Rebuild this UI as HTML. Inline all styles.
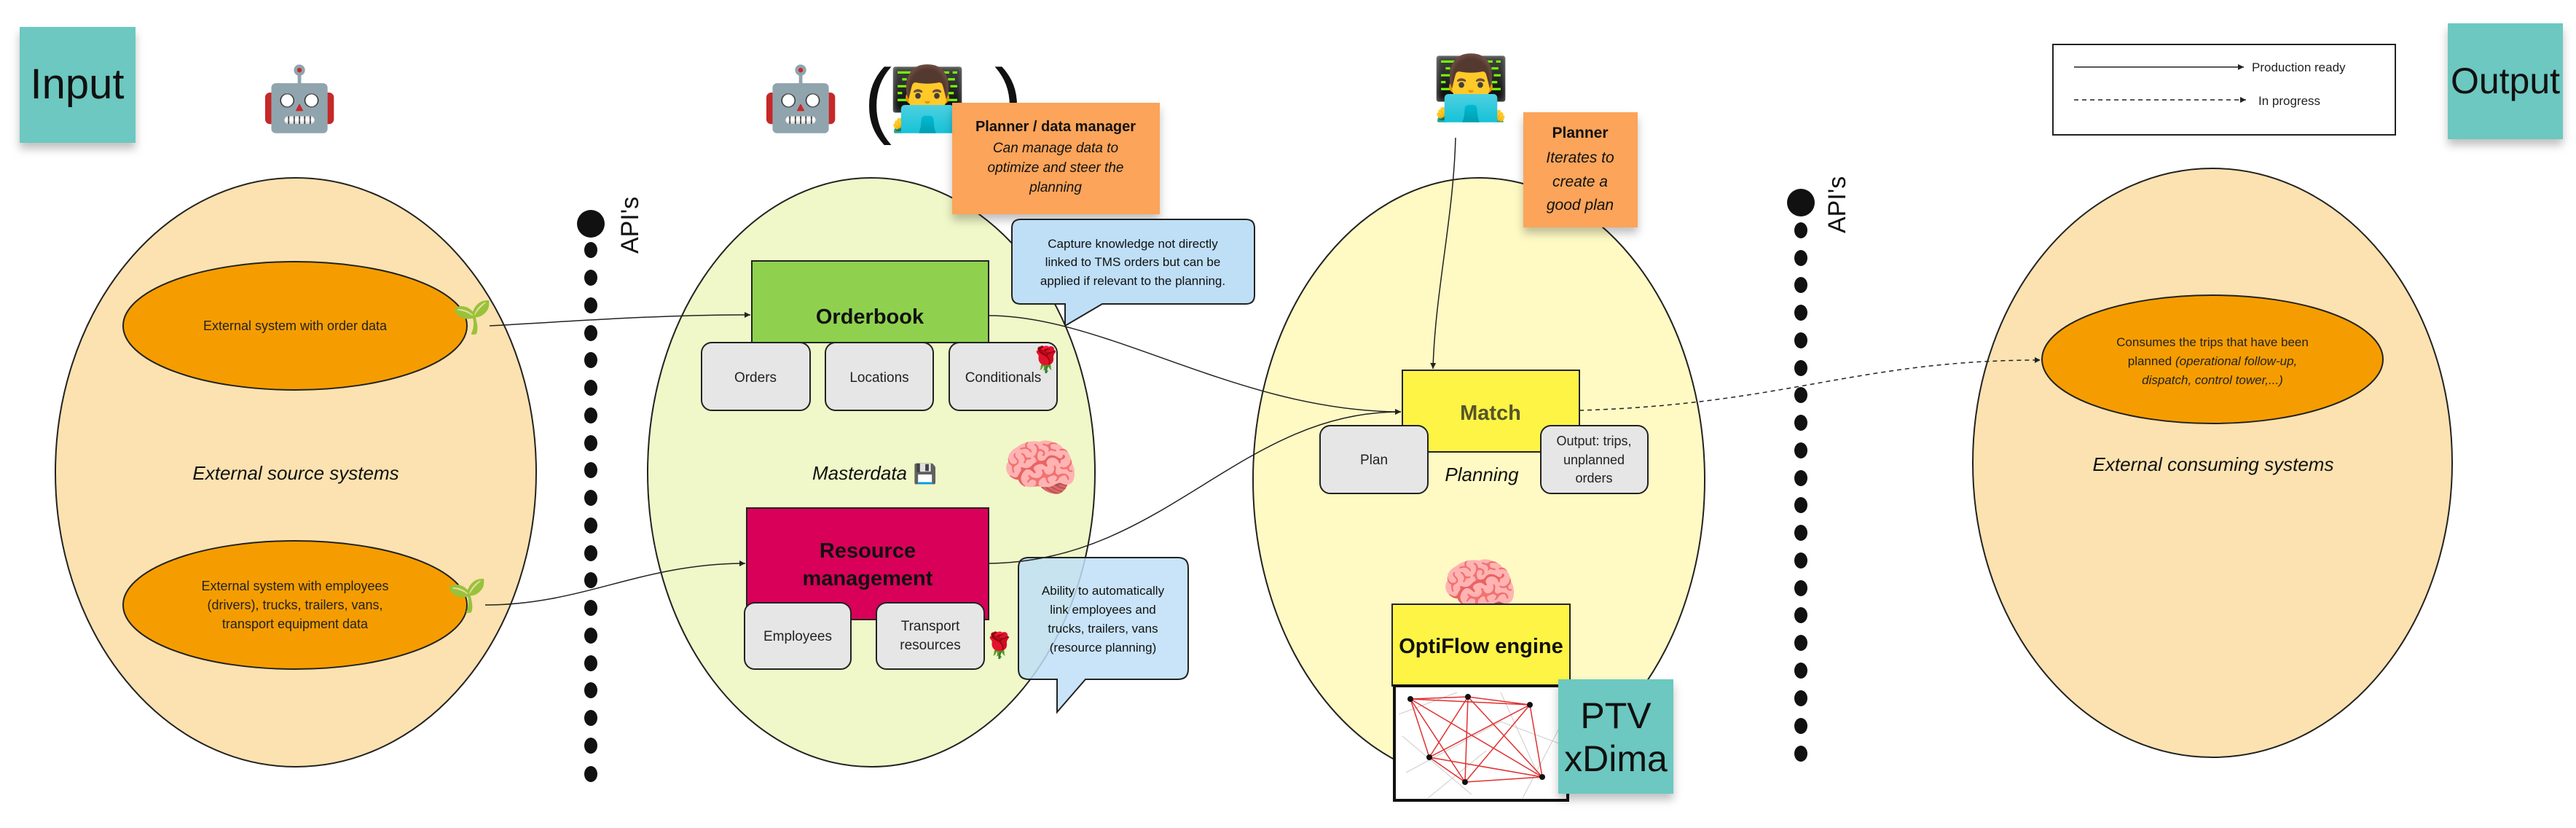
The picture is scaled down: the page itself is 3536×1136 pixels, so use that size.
<!DOCTYPE html>
<html><head><meta charset="utf-8"><style>
html,body{margin:0;padding:0;background:#fff;}
svg text{font-family:"Liberation Sans","Noto Sans CJK JP",sans-serif;}
.e{font-size:86px;font-family:"Noto Color Emoji","DejaVu Sans",sans-serif;}
</style></head><body>
<svg width="3536" height="1131" viewBox="0 0 3536 1131" xmlns="http://www.w3.org/2000/svg">
<defs>
<marker id="ar" markerWidth="10" markerHeight="10" refX="9" refY="5" orient="auto" markerUnits="userSpaceOnUse"><path d="M1,1 L9,5 L1,9 Z" fill="#222"/></marker>
<filter id="sh" x="-10%" y="-10%" width="130%" height="140%"><feDropShadow dx="0" dy="8" stdDeviation="6" flood-color="#000" flood-opacity="0.25"/></filter>
</defs>

<ellipse cx="406" cy="648" rx="330" ry="404" fill="#fbe2b0" stroke="#222" stroke-width="2"/>
<ellipse cx="1196" cy="648" rx="307" ry="404" fill="#f0f7c8" stroke="#222" stroke-width="2"/>
<ellipse cx="2030" cy="658" rx="310" ry="414" fill="#fffac4" stroke="#222" stroke-width="2"/>
<ellipse cx="3037" cy="635" rx="329" ry="404" fill="#fbe2b0" stroke="#222" stroke-width="2"/>

<rect x="27" y="37" width="159" height="159" fill="#6cc8c0" filter="url(#sh)"/>
<text x="106" y="135" font-size="58" text-anchor="middle" fill="#111">Input</text>
<rect x="3360" y="32" width="158" height="159" fill="#6cc8c0" filter="url(#sh)"/>
<text x="3439" y="128" font-size="50" text-anchor="middle" fill="#111">Output</text>

<text class="e" x="411" y="165" text-anchor="middle">🤖</text>
<text class="e" x="1099" y="165" text-anchor="middle">🤖</text>
<text x="1205" y="175" font-size="115" font-weight="300" text-anchor="middle" fill="#111">(</text>
<text x="1384" y="175" font-size="115" font-weight="300" text-anchor="middle" fill="#111">)</text>
<text class="e" x="1273" y="165" text-anchor="middle">👨‍💻</text>
<text class="e" x="2019" y="150" text-anchor="middle">👨‍💻</text>

<ellipse cx="405" cy="447" rx="236" ry="88" fill="#f59d00" stroke="#222" stroke-width="2"/>
<text x="405" y="453" font-size="18" text-anchor="middle" fill="#222">External system with order data</text>
<ellipse cx="405" cy="830" rx="236" ry="88" fill="#f59d00" stroke="#222" stroke-width="2"/>
<text font-size="18" text-anchor="middle" fill="#222"><tspan x="405" y="810">External system with employees</tspan><tspan x="405" y="836">(drivers), trucks, trailers, vans,</tspan><tspan x="405" y="862">transport equipment data</tspan></text>
<text x="406" y="658" font-size="26" font-style="italic" text-anchor="middle" fill="#111">External source systems</text>
<text class="e" x="648" y="450" text-anchor="middle" style="font-size:44px">🌱</text>
<text class="e" x="641" y="832" text-anchor="middle" style="font-size:44px">🌱</text>

<g fill="#111">
<circle cx="811" cy="307" r="19"/>
<circle cx="2472" cy="278" r="19"/>
</g>
<text transform="translate(876,348) rotate(-90)" font-size="34" fill="#111">API's</text>
<text transform="translate(2533,320) rotate(-90)" font-size="34" fill="#111">API's</text>

<rect x="1307" y="141" width="285" height="153" fill="#fba45a" filter="url(#sh)"/>
<text x="1449" y="180" font-size="20" font-weight="bold" text-anchor="middle" fill="#111">Planner / data manager</text>
<text font-size="19" font-style="italic" text-anchor="middle" fill="#111"><tspan x="1449" y="209">Can manage data to</tspan><tspan x="1449" y="236">optimize and steer the</tspan><tspan x="1449" y="263">planning</tspan></text>

<rect x="1032" y="358" width="325" height="112" fill="#8fd14f" stroke="#222" stroke-width="2"/>
<text x="1194" y="444" font-size="29" font-weight="bold" text-anchor="middle" fill="#111">Orderbook</text>
<g stroke="#222" stroke-width="2" fill="#e6e6e6">
<rect x="963" y="470" width="149" height="93" rx="14"/>
<rect x="1133" y="470" width="148" height="93" rx="14"/>
<rect x="1303" y="470" width="148" height="93" rx="14"/>
</g>
<g font-size="19" text-anchor="middle" fill="#222">
<text x="1037" y="524">Orders</text><text x="1207" y="524">Locations</text><text x="1377" y="524">Conditionals</text>
</g>
<text class="e" x="1436" y="505" text-anchor="middle" style="font-size:34px">🌹</text>

<text x="1180" y="658" font-size="26" font-style="italic" text-anchor="middle" fill="#111">Masterdata</text>
<text class="e" x="1270" y="659" text-anchor="middle" style="font-size:26px">💾</text>
<text class="e" x="1428" y="672" text-anchor="middle">🧠</text>

<rect x="1025" y="697" width="332" height="153" fill="#d80059" stroke="#222" stroke-width="2"/>
<text font-size="29" font-weight="bold" text-anchor="middle" fill="#111"><tspan x="1191" y="765">Resource</tspan><tspan x="1191" y="803">management</tspan></text>
<g stroke="#222" stroke-width="2" fill="#e6e6e6">
<rect x="1022" y="827" width="146" height="91" rx="14"/>
<rect x="1203" y="827" width="148" height="91" rx="14"/>
</g>
<g font-size="19" text-anchor="middle" fill="#222">
<text x="1095" y="879">Employees</text>
<text x="1277" y="865">Transport</text><text x="1277" y="891">resources</text>
</g>
<text class="e" x="1372" y="897" text-anchor="middle" style="font-size:34px">🌹</text>

<path d="M1401,301 H1710 Q1722,301 1722,313 V405 Q1722,417 1710,417 H1513 L1462,447 L1462,417 H1401 Q1389,417 1389,405 V313 Q1389,301 1401,301 Z" fill="#bfdff7" stroke="#222" stroke-width="2"/>
<text font-size="17" text-anchor="middle" fill="#111"><tspan x="1555" y="340">Capture knowledge not directly</tspan><tspan x="1555" y="365">linked to TMS orders but can be</tspan><tspan x="1555" y="391">applied if relevant to the planning.</tspan></text>
<path d="M1412,765 H1617 Q1631,765 1631,779 V918 Q1631,932 1617,932 H1490 L1451,977 L1451,932 H1412 Q1398,932 1398,918 V779 Q1398,765 1412,765 Z" fill="#bfdff7" fill-opacity="0.85" stroke="#222" stroke-width="2"/>
<text font-size="17" text-anchor="middle" fill="#111"><tspan x="1514" y="816">Ability to automatically</tspan><tspan x="1514" y="842">link employees and</tspan><tspan x="1514" y="868">trucks, trailers, vans</tspan><tspan x="1514" y="894">(resource planning)</tspan></text>

<rect x="2091" y="154" width="157" height="158" fill="#fba45a" filter="url(#sh)"/>
<text x="2169" y="189" font-size="21" font-weight="bold" text-anchor="middle" fill="#111">Planner</text>
<text font-size="21" font-style="italic" text-anchor="middle" fill="#111"><tspan x="2169" y="223">Iterates to</tspan><tspan x="2169" y="256">create a</tspan><tspan x="2169" y="288">good plan</tspan></text>

<rect x="1925" y="508" width="243" height="112" fill="#fef445" stroke="#222" stroke-width="2"/>
<text x="2046" y="576" font-size="29" font-weight="bold" text-anchor="middle" fill="#55552a">Match</text>
<g stroke="#222" stroke-width="2" fill="#e6e6e6">
<rect x="1812" y="584" width="148" height="93" rx="14"/>
<rect x="2115" y="584" width="147" height="93" rx="14"/>
</g>
<text x="1886" y="637" font-size="19" text-anchor="middle" fill="#222">Plan</text>
<text font-size="18" text-anchor="middle" fill="#222"><tspan x="2188" y="611">Output: trips,</tspan><tspan x="2188" y="637">unplanned</tspan><tspan x="2188" y="662">orders</tspan></text>
<text x="2034" y="660" font-size="26" font-style="italic" text-anchor="middle" fill="#111">Planning</text>

<text class="e" x="2031" y="835" text-anchor="middle">🧠</text>
<rect x="1911" y="829" width="244" height="112" fill="#fef445" stroke="#222" stroke-width="2"/>
<text x="2033" y="896" font-size="29" font-weight="bold" text-anchor="middle" fill="#111">OptiFlow engine</text>
<rect x="1914" y="941" width="238" height="157" fill="#fff" stroke="#111" stroke-width="4"/>
<g stroke="#ccc" stroke-width="1" fill="none">
<path d="M1920,980 L2000,950 M1930,1060 L2060,990 L2140,1020 M1960,1095 L2040,1030 M2090,1095 L2145,990 M1925,1010 L2020,1090 M2060,950 L2110,1060"/>
</g>
<g stroke="#e03030" stroke-width="1.5">
<path d="M1936,959 L2015,956 M1936,959 L2100,967 M1936,959 L1962,1039 M1936,959 L2011,1073 M1936,959 L2117,1066 M2015,956 L2100,967 M2015,956 L1962,1039 M2015,956 L2011,1073 M2015,956 L2117,1066 M2100,967 L1962,1039 M2100,967 L2011,1073 M2100,967 L2117,1066 M1962,1039 L2011,1073 M1962,1039 L2117,1066 M2011,1073 L2117,1066"/>
</g>
<g fill="#111"><circle cx="1936" cy="959" r="4"/><circle cx="2015" cy="956" r="4"/><circle cx="2100" cy="967" r="4"/><circle cx="1962" cy="1039" r="4"/><circle cx="2011" cy="1073" r="4"/><circle cx="2117" cy="1066" r="4"/></g>
<rect x="2139" y="932" width="158" height="157" fill="#6cc8c0" filter="url(#sh)"/>
<text font-size="50" text-anchor="middle" fill="#111"><tspan x="2218" y="999">PTV</tspan><tspan x="2218" y="1058">xDima</tspan></text>

<ellipse cx="3037" cy="493" rx="234" ry="88" fill="#f59d00" stroke="#222" stroke-width="2"/>
<text font-size="17" text-anchor="middle" fill="#222"><tspan x="3037" y="475">Consumes the trips that have been</tspan><tspan x="3037" y="501">planned <tspan font-style="italic">(operational follow-up,</tspan></tspan><tspan x="3037" y="527" font-style="italic">dispatch, control tower,...)</tspan></text>
<text x="3038" y="646" font-size="26" font-style="italic" text-anchor="middle" fill="#111">External consuming systems</text>

<rect x="2818" y="61" width="470" height="124" fill="#fff" stroke="#222" stroke-width="2"/>
<line x1="2847" y1="92" x2="3080" y2="92" stroke="#222" stroke-width="1.5" marker-end="url(#ar)"/>
<text x="3091" y="98" font-size="17" fill="#222">Production ready</text>
<line x1="2847" y1="137" x2="3083" y2="137" stroke="#222" stroke-width="1.5" stroke-dasharray="6,5" marker-end="url(#ar)"/>
<text x="3100" y="144" font-size="17" fill="#222">In progress</text>

<g fill="none" stroke="#222" stroke-width="1.5">
<path d="M672,447 C800,440 900,432 1030,432" marker-end="url(#ar)"/>
<path d="M666,830 C800,830 880,773 1023,773" marker-end="url(#ar)"/>
<path d="M1357,433 C1520,433 1700,565 1923,565" marker-end="url(#ar)"/>
<path d="M1357,773 C1600,770 1700,565 1923,565" marker-end="url(#ar)"/>
<path d="M1998,189 C1995,300 1970,400 1967,506" marker-end="url(#ar)"/>
<path d="M2168,563 C2450,555 2550,494 2801,494" stroke-dasharray="6,5" marker-end="url(#ar)"/>
</g>

<g fill="#111">
<ellipse cx="811" cy="343" rx="9" ry="11"/><ellipse cx="811" cy="381" rx="9" ry="11"/><ellipse cx="811" cy="419" rx="9" ry="11"/><ellipse cx="811" cy="457" rx="9" ry="11"/><ellipse cx="811" cy="494" rx="9" ry="11"/><ellipse cx="811" cy="532" rx="9" ry="11"/><ellipse cx="811" cy="570" rx="9" ry="11"/><ellipse cx="811" cy="608" rx="9" ry="11"/><ellipse cx="811" cy="645" rx="9" ry="11"/><ellipse cx="811" cy="683" rx="9" ry="11"/><ellipse cx="811" cy="721" rx="9" ry="11"/><ellipse cx="811" cy="759" rx="9" ry="11"/><ellipse cx="811" cy="796" rx="9" ry="11"/><ellipse cx="811" cy="834" rx="9" ry="11"/><ellipse cx="811" cy="872" rx="9" ry="11"/><ellipse cx="811" cy="910" rx="9" ry="11"/><ellipse cx="811" cy="947" rx="9" ry="11"/><ellipse cx="811" cy="985" rx="9" ry="11"/><ellipse cx="811" cy="1023" rx="9" ry="11"/><ellipse cx="811" cy="1062" rx="9" ry="11"/>
<ellipse cx="2472" cy="316" rx="9" ry="11"/><ellipse cx="2472" cy="354" rx="9" ry="11"/><ellipse cx="2472" cy="391" rx="9" ry="11"/><ellipse cx="2472" cy="429" rx="9" ry="11"/><ellipse cx="2472" cy="467" rx="9" ry="11"/><ellipse cx="2472" cy="505" rx="9" ry="11"/><ellipse cx="2472" cy="542" rx="9" ry="11"/><ellipse cx="2472" cy="580" rx="9" ry="11"/><ellipse cx="2472" cy="618" rx="9" ry="11"/><ellipse cx="2472" cy="656" rx="9" ry="11"/><ellipse cx="2472" cy="693" rx="9" ry="11"/><ellipse cx="2472" cy="731" rx="9" ry="11"/><ellipse cx="2472" cy="769" rx="9" ry="11"/><ellipse cx="2472" cy="807" rx="9" ry="11"/><ellipse cx="2472" cy="844" rx="9" ry="11"/><ellipse cx="2472" cy="882" rx="9" ry="11"/><ellipse cx="2472" cy="920" rx="9" ry="11"/><ellipse cx="2472" cy="958" rx="9" ry="11"/><ellipse cx="2472" cy="996" rx="9" ry="11"/><ellipse cx="2472" cy="1034" rx="9" ry="11"/>
</g>
</svg>
</body></html>
